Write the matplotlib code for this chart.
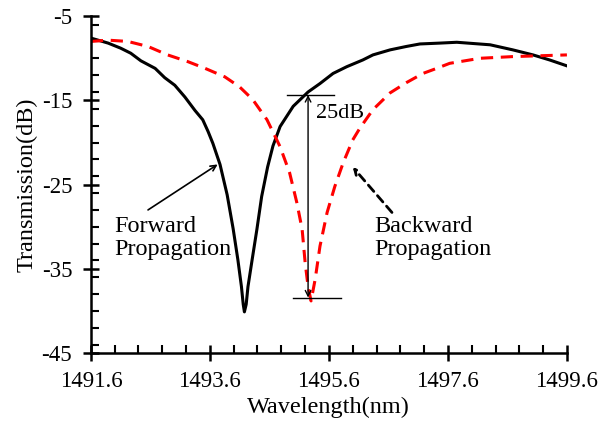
import numpy as np
import matplotlib
matplotlib.use('Agg')
import matplotlib.pyplot as plt
from matplotlib.ticker import MultipleLocator

# 前向传输 (黑色实线)
fwd_wl = [1491.6, 1491.89, 1492.10, 1492.27, 1492.44, 1492.68, 1492.84, 1493.01, 1493.18,
          1493.35, 1493.48, 1493.57, 1493.65, 1493.77, 1493.89, 1493.99, 1494.07, 1494.13,
          1494.16, 1494.18, 1494.21, 1494.24, 1494.31, 1494.39, 1494.47, 1494.57, 1494.66,
          1494.78, 1495.0, 1495.25, 1495.45, 1495.67, 1495.9, 1496.17, 1496.34, 1496.63,
          1496.9, 1497.13, 1497.46, 1497.75, 1498.31, 1498.69, 1499.03, 1499.31, 1499.6]
fwd_db = [-7.6, -8.2, -8.8, -9.4, -10.3, -11.2, -12.3, -13.2, -14.6,
          -16.2, -17.3, -18.7, -20.1, -22.6, -26.2, -30.2, -33.9, -37.1,
          -39.2, -40.1, -39.2, -37.1, -33.9, -30.3, -26.4, -22.9, -20.4,
          -18.1, -15.7, -14.0, -13.0, -11.8, -11.0, -10.2, -9.6, -9.0,
          -8.6, -8.3, -8.2, -8.1, -8.4, -9.0, -9.6, -10.2, -10.9]

# 后向传输 (红色虚线)
bwd_wl = [1491.6, 1491.89, 1492.22, 1492.56, 1492.89, 1493.23, 1493.52, 1493.85, 1494.1,
          1494.32, 1494.56, 1494.78, 1494.94, 1495.06, 1495.15, 1495.2, 1495.25, 1495.3,
          1495.37, 1495.45, 1495.57, 1495.7, 1495.84, 1496.0, 1496.12, 1496.34, 1496.63,
          1496.9, 1497.18, 1497.41, 1497.63, 1498.14, 1498.69, 1499.15, 1499.6]
bwd_db = [-8.0, -7.85, -8.0, -8.6, -9.6, -10.4, -11.2, -12.2, -13.4,
          -14.9, -17.3, -20.5, -23.6, -27.1, -30.3, -34.2, -37.1, -38.8,
          -36.2, -32.3, -28.3, -25.2, -22.4, -19.7, -18.3, -16.1, -14.1,
          -12.9, -11.8, -11.2, -10.6, -10.0, -9.8, -9.7, -9.6]

# 消光比标注
mark_wl = 1495.25
mark_top, mark_bot = -14.35, -38.4
top_bar = [1494.89, 1495.69]
bot_bar = [1495.0, 1495.8]

plt.rcParams['font.family'] = ['Liberation Serif', 'DejaVu Serif']
plt.rcParams['axes.unicode_minus'] = False
fs = 17.5

fig = plt.figure(figsize=(5.98, 4.25), dpi=100)
ax = fig.add_axes([0.152, 0.169, 0.796, 0.793])

ax.plot(fwd_wl, fwd_db, color='black', lw=2.2)
ax.plot(bwd_wl, bwd_db, color='red', lw=2.2, linestyle=(0, (4, 2.5)))

ax.set_xlim(1491.6, 1499.6)
ax.set_ylim(-45, -5)
ax.xaxis.set_minor_locator(MultipleLocator(0.4))
ax.yaxis.set_minor_locator(MultipleLocator(2))
ax.set_xticks(np.arange(1491.6, 1499.7, 2))
ax.set_xticklabels(['1491.6', '1493.6', '1495.6', '1497.6', '1499.6'])
ax.set_yticks([-45, -35, -25, -15, -5])

for s in ['top', 'right']:
    ax.spines[s].set_visible(False)
for s in ['left', 'bottom']:
    ax.spines[s].set_linewidth(1.8)

ax.tick_params(which='major', direction='inout', length=11, width=1.8, labelsize=16.5)
ax.tick_params(axis='x', which='major', pad=7)
ax.tick_params(axis='y', which='major', pad=8)
ax.tick_params(which='minor', direction='in', length=6, width=1.5)

ax.set_xlabel('Wavelength(nm)', fontsize=fs, labelpad=4)
ax.set_ylabel('Transmission(dB)', fontsize=fs, labelpad=3)

# 25dB 双箭头
ax.annotate('', xy=(mark_wl, mark_top), xytext=(mark_wl, mark_bot),
            arrowprops=dict(arrowstyle='<->', color='black', lw=1.0,
                            shrinkA=0, shrinkB=0))
ax.plot(top_bar, [mark_top, mark_top], color='black', lw=1.0)
ax.plot(bot_bar, [mark_bot, mark_bot], color='black', lw=1.0)
ax.text(1495.38, -16.5, '25dB', fontsize=16, va='center', ha='left')

# 文字和箭头
ax.text(1492.0, -31.3, 'Forward\nPropagation', fontsize=fs, va='center', ha='left',
        linespacing=1.15)
ax.annotate('', xy=(1493.73, -22.6), xytext=(1492.56, -28.0),
            arrowprops=dict(arrowstyle='->', color='black', lw=1.2,
                            shrinkA=0, shrinkB=0))

ax.text(1496.37, -31.3, 'Backward\nPropagation', fontsize=fs, va='center', ha='left',
        linespacing=1.15)
ax.annotate('', xy=(1496.0, -22.9), xytext=(1496.66, -28.3),
            arrowprops=dict(arrowstyle='->', color='black', lw=2.0, linestyle=(0, (3, 2)),
                            shrinkA=0, shrinkB=0))

fig.savefig('out.png', dpi=100)
